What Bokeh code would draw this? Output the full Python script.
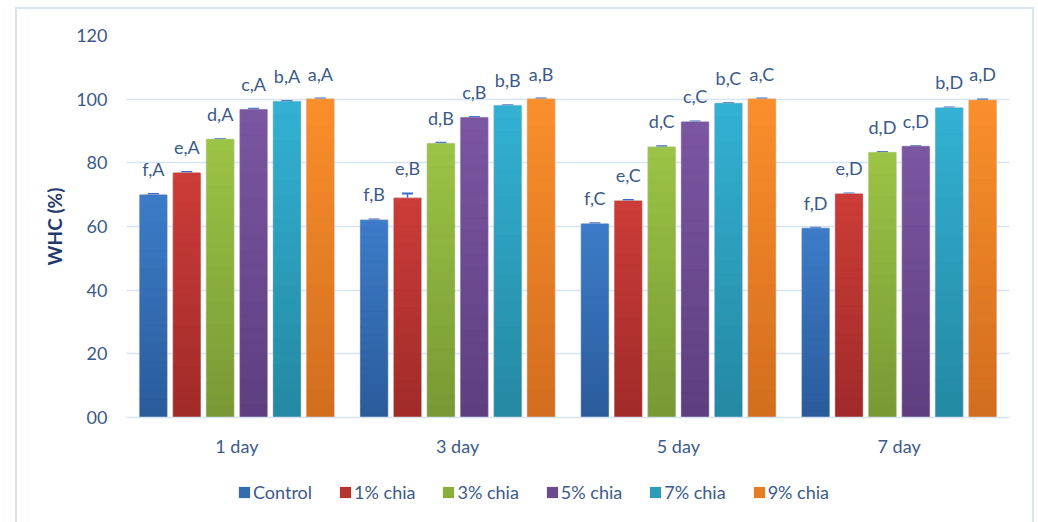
from bokeh.plotting import figure
from bokeh.layouts import column
from bokeh.models import (ColumnDataSource, FixedTicker, Legend, LegendItem,
                          LabelSet, Whisker, TeeHead, Range1d)
from bokeh.core.properties import value
from bokeh.embed import file_html
from bokeh.resources import INLINE

# Storage days (x categories)
days = ["1 day", "3 day", "5 day", "7 day"]
day_letters = ["A", "B", "C", "D"]

# Treatments and their WHC (%) per storage day
series_names = ["Control", "1% chia", "3% chia", "5% chia", "7% chia", "9% chia"]
series_letters = ["f", "e", "d", "c", "b", "a"]

control = [69.9, 62.0, 60.8, 59.4]
chia_1 = [76.8, 68.9, 68.0, 70.2]
chia_3 = [87.3, 86.0, 84.9, 83.2]
chia_5 = [96.7, 94.2, 92.8, 85.1]
chia_7 = [99.2, 97.9, 98.6, 97.2]
chia_9 = [100.0, 100.0, 100.0, 99.6]

# Standard deviations
err_control = [0.3, 0.2, 0.2, 0.2]
err_chia_1 = [0.3, 1.5, 0.3, 0.2]
err_chia_3 = [0.2, 0.3, 0.3, 0.2]
err_chia_5 = [0.3, 0.2, 0.2, 0.2]
err_chia_7 = [0.2, 0.2, 0.2, 0.2]
err_chia_9 = [0.2, 0.2, 0.2, 0.3]

y_ticks = [0, 20, 40, 60, 80, 100, 120]
y_tick_labels = ["00", "20", "40", "60", "80", "100", "120"]

values = [control, chia_1, chia_3, chia_5, chia_7, chia_9]
errors = [err_control, err_chia_1, err_chia_3, err_chia_5, err_chia_7, err_chia_9]

# (top colour, bottom colour) of each bar's vertical gradient
top_colors = ["#3d7cc9", "#cd3c38", "#9cc445", "#7c56a2", "#33b1d3", "#fa8f2b"]
bottom_colors = ["#2a5b9b", "#9f2b29", "#789834", "#5d3e7f", "#2488a2", "#d26d1e"]

TEXT = "#3b5a8a"
GRID = "#d6e3f3"
FONT = "Lato"


def hex_to_rgb(h):
    h = h.lstrip("#")
    return tuple(int(h[i:i + 2], 16) for i in (0, 2, 4))


def mix(c_bottom, c_top, t):
    a, b = hex_to_rgb(c_bottom), hex_to_rgb(c_top)
    return "#%02x%02x%02x" % tuple(round(a[i] + (b[i] - a[i]) * t) for i in range(3))


p = figure(width=1015, height=455, output_backend="svg", toolbar_location=None,
           x_range=Range1d(0, 4), y_range=Range1d(0, 120),
           min_border_left=109, min_border_right=23, min_border_top=26,
           min_border_bottom=47)
p.outline_line_color = None
p.background_fill_color = "white"
p.border_fill_color = "white"

# strip under the chart that carries the series legend; its value range
# lies far above the data, so the key bars drawn into it stay out of view
lf = figure(width=1015, height=58, output_backend="svg", toolbar_location=None,
            x_range=Range1d(100, 101), y_range=Range1d(1000, 1001), min_border=0)
lf.axis.visible = False
lf.grid.grid_line_color = None
lf.outline_line_color = None
lf.border_fill_color = "white"

step = 0.1513
bar_w = 0.1223
n_slices = 24

legend_items = []
for i, (name, vals, errs) in enumerate(zip(series_names, values, errors)):
    xs = [g + 0.5 + (i - 2.5) * step for g in range(len(days))]
    src = ColumnDataSource(dict(x=xs, top=vals,
                                up=[v + e for v, e in zip(vals, errs)],
                                lo=[v - e for v, e in zip(vals, errs)],
                                lab=[f"{series_letters[i]},{d}" for d in day_letters]))
    mid = mix(bottom_colors[i], top_colors[i], 0.5)
    p.vbar(x="x", top="top", bottom=0, width=bar_w, source=src,
           fill_color=mid, line_color="#cfcfcf", line_alpha=0.7, line_width=2)

    # gradient shading: stacked slices of every bar
    sx, sb, st, sc = [], [], [], []
    for x, v in zip(xs, vals):
        for k in range(n_slices):
            sx.append(x)
            sb.append(v * k / n_slices)
            st.append(v * (k + 1) / n_slices)
            sc.append(mix(bottom_colors[i], top_colors[i], (k + 0.5) / n_slices))
    p.vbar(x=sx, bottom=sb, top=st, width=bar_w, fill_color=sc, line_color=sc,
           line_width=0.6)

    whisk = Whisker(base="x", upper="up", lower="lo", source=src,
                    line_color="#3a6bc8", line_width=1.5,
                    upper_head=TeeHead(size=11, line_color="#3a6bc8", line_width=2),
                    lower_head=TeeHead(size=11, line_color="#3a6bc8", line_width=2))
    p.add_layout(whisk)

    labels = LabelSet(x="x", y="up", text="lab", source=src, y_offset=14,
                      text_align="center", text_baseline="bottom",
                      text_font=value(FONT), text_font_size=value("18px"),
                      text_color=TEXT)
    p.add_layout(labels)

    # legend key for the series
    key = lf.vbar(x="x", top="top", bottom=0, width=bar_w, source=src,
                  fill_color=mid, line_color=None)
    legend_items.append(LegendItem(label=name, renderers=[key]))

# y axis
p.yaxis.ticker = FixedTicker(ticks=y_ticks)
p.yaxis.major_label_overrides = {t: s for t, s in zip(y_ticks, y_tick_labels)}
p.yaxis.axis_line_color = None
p.yaxis.major_tick_line_color = None
p.yaxis.minor_tick_line_color = None
p.yaxis.major_label_standoff = 13
p.yaxis.major_label_text_font = FONT
p.yaxis.major_label_text_font_size = "18px"
p.yaxis.major_label_text_color = TEXT
p.yaxis.axis_label = "WHC (%)"
p.yaxis.axis_label_text_font = FONT
p.yaxis.axis_label_text_font_size = "19px"
p.yaxis.axis_label_text_font_style = "bold"
p.yaxis.axis_label_text_color = "#1f3a6b"
p.yaxis.axis_label_standoff = 7

# x axis
p.xaxis.ticker = FixedTicker(ticks=[g + 0.5 for g in range(len(days))])
p.xaxis.major_label_overrides = {g + 0.5: d for g, d in enumerate(days)}
p.xaxis.axis_line_color = GRID
p.xaxis.axis_line_width = 1.5
p.xaxis.major_tick_line_color = None
p.xaxis.minor_tick_line_color = None
p.xaxis.major_label_standoff = 11
p.xaxis.major_label_text_font = FONT
p.xaxis.major_label_text_font_size = "18px"
p.xaxis.major_label_text_color = TEXT

p.xgrid.grid_line_color = None
p.ygrid.grid_line_color = GRID
p.ygrid.grid_line_width = 1.5

legend = Legend(items=legend_items, orientation="horizontal",
                location=(111, 19), padding=0, margin=0, spacing=26,
                glyph_width=14, glyph_height=14, label_standoff=2,
                label_text_font=FONT, label_text_font_size="18px",
                label_text_color=TEXT, border_line_color=None,
                background_fill_alpha=0)
lf.add_layout(legend)

page = column(p, lf, spacing=0,
              styles={"margin-left": "15px", "margin-top": "7px",
                      "border": "2px solid #dbe5f2"})

open("out.html", "w").write(file_html(page, INLINE))
